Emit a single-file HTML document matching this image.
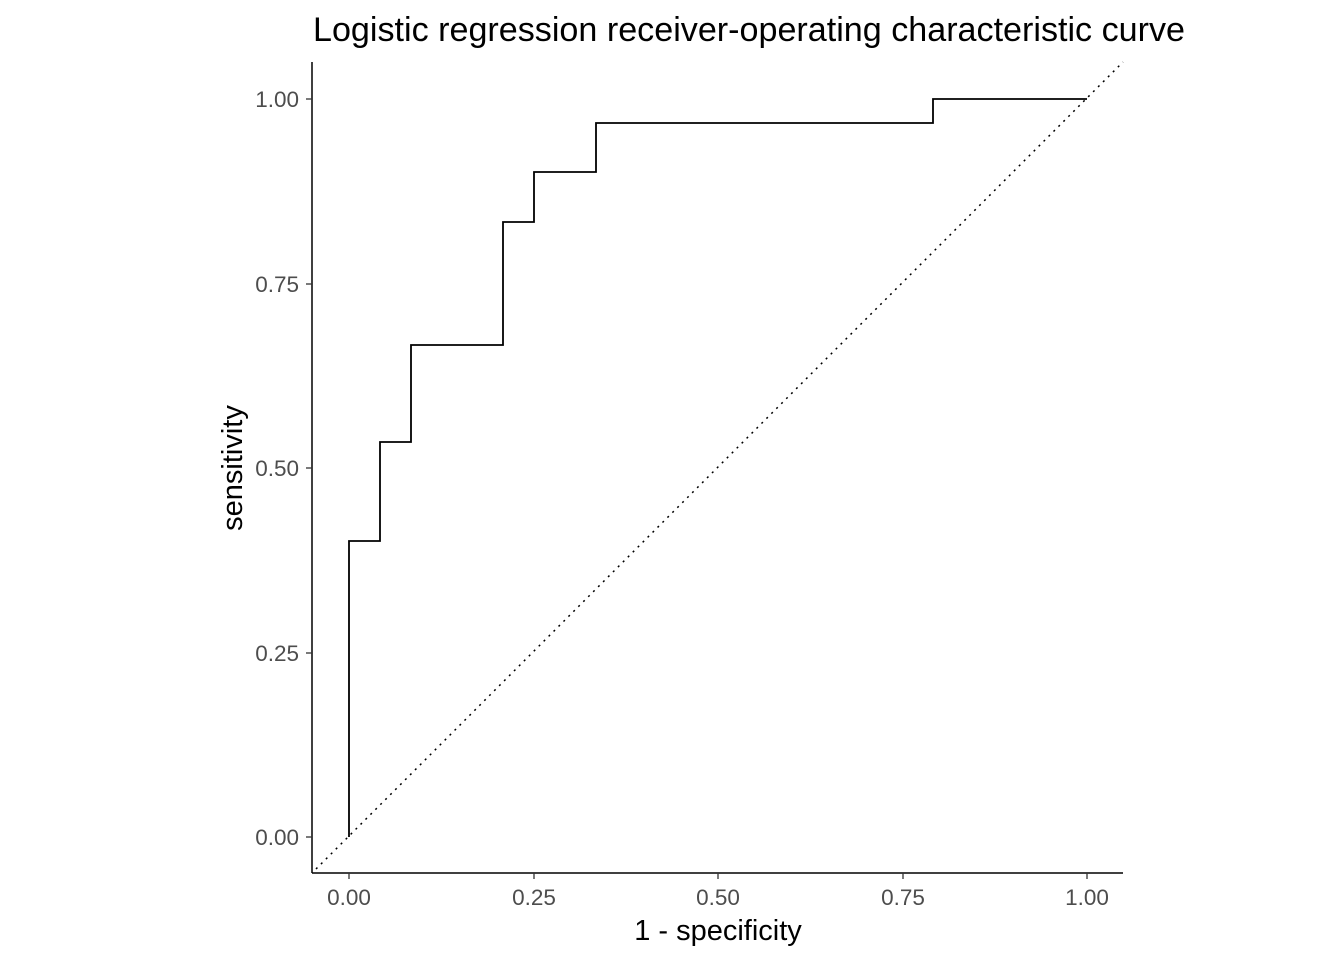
<!DOCTYPE html>
<html><head><meta charset="utf-8"><style>body{margin:0;background:#fff}</style></head><body>
<svg width="1344" height="960" xmlns="http://www.w3.org/2000/svg" font-family="Liberation Sans, sans-serif">
<rect width="1344" height="960" fill="#fff"/>
<line x1="312" y1="62" x2="312" y2="873" stroke="#000" stroke-width="1.5"/>
<line x1="312" y1="873" x2="1123" y2="873" stroke="#000" stroke-width="1.5"/>
<g stroke="#333" stroke-width="1.3">
<line x1="306" y1="99" x2="312" y2="99"/><line x1="306" y1="284" x2="312" y2="284"/><line x1="306" y1="468" x2="312" y2="468"/><line x1="306" y1="653" x2="312" y2="653"/><line x1="306" y1="837" x2="312" y2="837"/>
<line x1="349" y1="873" x2="349" y2="879"/><line x1="534" y1="873" x2="534" y2="879"/><line x1="718" y1="873" x2="718" y2="879"/><line x1="903" y1="873" x2="903" y2="879"/><line x1="1087" y1="873" x2="1087" y2="879"/>
</g>
<g font-size="22.5" fill="#4d4d4d" text-anchor="end">
<text x="299" y="107">1.00</text><text x="299" y="292">0.75</text><text x="299" y="476">0.50</text><text x="299" y="661">0.25</text><text x="299" y="845">0.00</text>
</g>
<g font-size="22.5" fill="#4d4d4d" text-anchor="middle">
<text x="349" y="905">0.00</text><text x="534" y="905">0.25</text><text x="718" y="905">0.50</text><text x="903" y="905">0.75</text><text x="1087" y="905">1.00</text>
</g>
<text x="718" y="940" font-size="29" text-anchor="middle">1 - specificity</text>
<text transform="translate(242,468) rotate(-90)" font-size="29" text-anchor="middle">sensitivity</text>
<text x="313" y="41" font-size="34" textLength="872" lengthAdjust="spacingAndGlyphs">Logistic regression receiver-operating characteristic curve</text>
<line x1="316" y1="869" x2="1123" y2="62" stroke="#000" stroke-width="1.5" stroke-dasharray="2,5"/>
<polyline fill="none" stroke="#000" stroke-width="1.8" points="349,837 349,541 380,541 380,442 411,442 411,345 503,345 503,222 534,222 534,172 596,172 596,123 933,123 933,99 1087,99"/>
</svg>
</body></html>
